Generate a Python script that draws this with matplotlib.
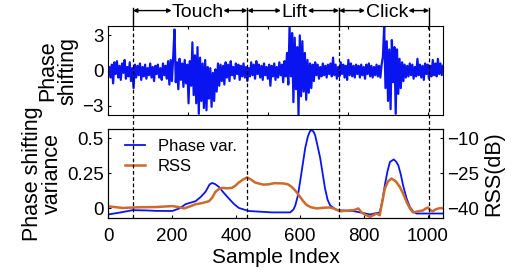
import numpy as np
import matplotlib
matplotlib.use("Agg")
from matplotlib import pyplot as plt
from matplotlib import transforms

plt.rcParams['font.family'] = ['Liberation Sans', 'DejaVu Sans']

# --------- DATA ---------

# raw phase shifting, one value every 4 samples
step = 4
phase = [
    -0.5, 0.3, -0.6, 0.5, -1.1, 0.7, -0.3, 0.8, -0.6, 0.4,
    -0.8, 0.6, -0.2, 0.9, -0.7, 0.3, -0.5, 0.7, -0.9, 0.2,
    -1.5, 0.5, -0.6, 0.4, -0.4, 0.6, -0.8, 0.3, -0.5, 0.5,
    -0.7, 0.2, -0.4, 0.6, -0.6, 0.3, -0.9, 0.4, -0.3, 0.5,
    -0.6, 0.2, -0.8, 0.6, -0.4, 0.4, -0.7, 0.8, -1.2, 0.9,
    -0.9, 1.2, 3.5, -1.0, 0.7, -1.6, 1.0, -0.8, 0.6, -1.4,
    0.9, -1.1, 0.5, -2.8, 0.8, -1.3, 2.4, -2.1, 1.3, -2.8,
    2.0, -3.7, 1.1, -2.6, 0.6, -3.2, 0.9, -3.4, 0.3, -2.4,
    0.2, -3.1, -0.2, -2.6, 0.1, -1.8, 0.6, -1.3, 0.5, -0.9,
    0.4, -1.2, 0.7, -0.6, 0.5, -0.9, 0.8, -0.4, 0.3, -0.7,
    0.6, -0.3, 0.5, -0.8, 0.4, -0.5, 0.6, -0.6, 0.3, -0.9,
    0.2, -0.5, 0.7, -0.4, 0.5, -0.7, 0.8, -0.3, 0.5, -0.6,
    0.4, -0.8, 0.6, -0.4, 0.3, -0.7, 0.5, -1.3, 0.4, -0.5,
    0.6, -0.8, 0.3, -0.6, 0.7, -0.4, 0.5, -1.0, 0.8, -0.5,
    1.5, -1.2, 3.8, -0.5, 3.2, -2.7, 2.8, -1.6, 2.0, -3.8,
    3.0, -2.2, 2.5, -1.8, 1.5, -2.5, 0.9, -1.9, 0.6, -1.5,
    0.5, -0.9, 0.7, -0.4, 0.5, -0.7, 0.3, -0.5, 0.6, -0.4,
    0.4, -0.6, 0.5, -0.3, 0.6, -0.5, 1.1, -0.4, 0.5, -0.7,
    0.3, -0.5, 0.7, -0.3, 0.5, -0.6, 0.4, -0.8, 0.9, -0.4,
    0.6, -0.5, 0.4, -0.6, 0.5, -0.3, 0.4, -0.6, 0.5, -0.4,
    0.3, -0.7, 0.5, -0.3, 0.6, -0.5, 0.4, -0.6, 0.3, -0.4,
    0.5, -0.5, 0.4, -0.6, 0.5, 1.2, 3.8, -1.5, 2.5, -2.6,
    1.8, -3.3, 2.6, -1.0, 2.0, -3.7, 1.8, -2.0, 1.0, -1.5,
    0.7, -0.9, 0.5, -0.6, 0.4, -0.5, 0.6, -0.4, 0.5, -0.7,
    0.3, -0.5, 1.0, -0.4, 0.5, -0.6, 0.4, -0.8, 0.6, -0.3,
    0.5, -0.7, 0.4, -0.5, 0.9, -0.4, 0.6, -0.5, 1.0, -0.3,
    0.6, -0.4, 0.4,
]

# phase shifting variance
var_x = [0, 40, 77, 120, 150, 201, 225, 243, 274, 290, 305, 318, 326, 335, 347,
         362, 378, 394, 409, 440, 513, 570, 580, 586, 594, 601, 609, 617, 625, 632,
         638, 643, 648, 656, 664, 672, 679, 687, 695, 715, 766, 800, 819, 850, 858,
         866, 874, 882, 894, 902, 908, 916, 923, 934, 944, 955, 965, 1046]
var_y = [-0.045, -0.03, -0.014, -0.016, -0.019, -0.02, 0.0, 0.029, 0.05, 0.08, 0.117,
         0.17, 0.18, 0.172, 0.152, 0.11, 0.069, 0.03, 0.002, -0.02, -0.03, -0.03, -0.01,
         0.02, 0.09, 0.19, 0.31, 0.43, 0.51, 0.55, 0.557, 0.545, 0.52, 0.44, 0.355, 0.24,
         0.14, 0.06, 0.02, -0.014, -0.02, -0.035, -0.045, -0.03, 0.05, 0.164, 0.26, 0.33,
         0.348, 0.33, 0.307, 0.24, 0.164, 0.07, 0.01, -0.025, -0.038, -0.038]

# RSS in dB
rss_x = [0, 46, 98, 150, 201, 220, 238, 255, 274, 295, 316, 326, 336, 347, 357, 372,
         388, 400, 409, 422, 435, 448, 460, 471, 485, 502, 520, 549, 563, 575, 588, 601,
         612, 622, 635, 653, 675, 695, 710, 726, 750, 770, 783, 793, 805, 819, 830, 840,
         850, 857, 866, 876, 887, 900, 913, 924, 934, 944, 954, 965, 975, 985, 993, 1001,
         1008, 1016, 1025, 1037, 1046]
rss_y = [-39.2, -39.9, -39.6, -39.5, -39.1, -39.5, -40.1, -39.3, -38.3, -37.8, -37.0,
         -35.5, -33.0, -31.8, -31.3, -31.5, -31.3, -30.2, -29.0, -27.8, -26.8, -27.8,
         -29.0, -29.4, -29.9, -29.8, -29.3, -29.4, -29.8, -30.9, -32.8, -35.2, -37.2,
         -38.7, -39.6, -40.1, -39.8, -39.7, -40.3, -41.3, -41.0, -40.8, -40.1, -41.8,
         -42.8, -43.7, -43.0, -42.3, -43.0, -38.0, -31.6, -28.5, -27.3, -28.5, -30.9,
         -34.0, -37.3, -40.0, -41.8, -41.5, -41.2, -41.0, -40.2, -39.7, -40.8, -41.3,
         -40.5, -40.0, -40.0]

# gesture segments
seg_names = ['Touch', 'Lift', 'Click']
seg_bounds = [78, 436, 723, 1005]
seg_text_x = [280, 583, 872]

# --------- PLOT ---------

fig = plt.figure(figsize=(5.21, 2.78), dpi=100)
ax1 = fig.add_axes([0.2073, 0.5863, 0.643, 0.3202])
ax2 = fig.add_axes([0.2073, 0.2158, 0.643, 0.3202])
ax3 = ax2.twinx()

blue = '#0a14f0'
orange = '#cc6b2c'

sample_idx = np.arange(len(phase)) * step
ax1.plot(sample_idx, phase, color=blue, lw=1.6)
ax1.set_xlim(0, 1048)
ax1.set_ylim(-3.8, 3.8)
ax1.set_yticks([-3, 0, 3])
ax1.set_xticklabels([])
ax1.set_ylabel("Phase\nshifting", fontsize=15.5, linespacing=0.95, labelpad=3)

l1, = ax2.plot(var_x, var_y, color=blue, lw=1.3, label='Phase var.')
l2, = ax3.plot(rss_x, rss_y, color=orange, lw=1.8, label='RSS')
ax2.set_xlim(0, 1048)
ax2.set_ylim(-0.07, 0.565)
ax2.set_yticks([0, 0.25, 0.5])
ax2.set_yticklabels(['0', '0.25', '0.5'])
ax3.set_ylim(-44.2, -6.1)
ax3.set_yticks([-40, -25, -10])
ax2.set_xticks([0, 200, 400, 600, 800, 1000])
ax2.set_xlabel("Sample Index", fontsize=15, labelpad=2)
ax2.set_ylabel("Phase shifting\nvariance", fontsize=15.5, linespacing=0.95, labelpad=3)
ax3.set_ylabel("RSS(dB)", fontsize=15.5, labelpad=3)

for a in (ax1, ax2, ax3):
    a.tick_params(labelsize=13.5, direction='in', length=2.5, pad=3)
ax1.tick_params(top=True)
ax2.tick_params(axis='x', pad=7)

ax2.legend([l1, l2], ['Phase var.', 'RSS'], loc='upper left', frameon=False,
           fontsize=12, handlelength=1.2, handletextpad=0.8, labelspacing=0.3,
           borderaxespad=0.2, bbox_to_anchor=(0.02, 1.0))

# segment markers spanning both panels
trans = transforms.blended_transform_factory(ax2.transData, fig.transFigure)
y_top, y_ax1, y_bot = 0.97, 0.9065, 0.2158
for b in seg_bounds:
    fig.add_artist(plt.Line2D([b, b], [y_ax1, y_top], transform=trans, color='k', lw=1.0))
    fig.add_artist(plt.Line2D([b, b], [y_bot, y_ax1], transform=trans, color='k', lw=0.9,
                              ls=(0, (3, 2))))

y_arr = 0.962
text_half = [81, 42, 68]
for i, name in enumerate(seg_names):
    left, right = seg_bounds[i], seg_bounds[i + 1]
    fig.text(seg_text_x[i], y_arr - 0.006, name, transform=trans, ha='center', va='center',
             fontsize=14)
    arrow = dict(arrowstyle='<|-|>', color='k', lw=1.0, shrinkA=0, shrinkB=0,
                 mutation_scale=6)
    ax2.annotate('', xy=(left, y_arr), xytext=(seg_text_x[i] - text_half[i], y_arr),
                 xycoords=trans, textcoords=trans, arrowprops=arrow, annotation_clip=False)
    ax2.annotate('', xy=(seg_text_x[i] + text_half[i], y_arr), xytext=(right, y_arr),
                 xycoords=trans, textcoords=trans, arrowprops=arrow, annotation_clip=False)

fig.savefig("out.png", dpi=100)
